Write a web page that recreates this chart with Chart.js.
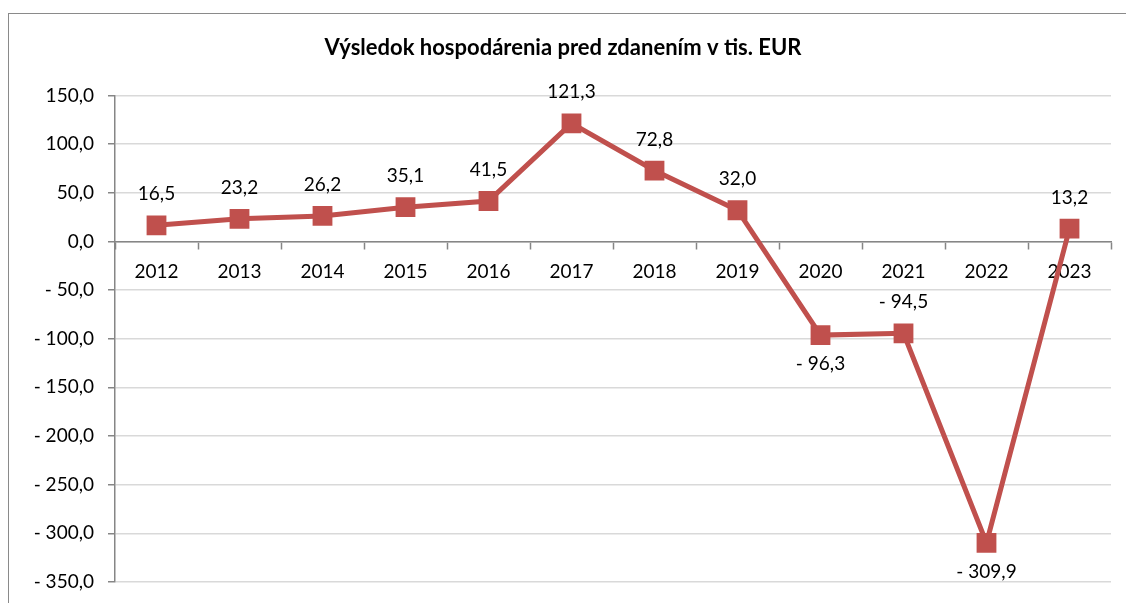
<!DOCTYPE html>
<html>
<head>
<meta charset="utf-8">
<script src="https://cdn.jsdelivr.net/npm/chart.js@4/dist/chart.umd.min.js"></script>
<style>
  html, body { margin: 0; padding: 0; background: #fff; }
  #wrap { position: relative; width: 1126px; height: 603px; overflow: hidden; }
  #frame { position: absolute; left: 8px; top: 13px; width: 1200px; height: 700px;
           border-left: 1.5px solid #8a8a8a; border-top: 1.5px solid #8a8a8a; }
  canvas { position: absolute; left: 0; top: 0; }
</style>
</head>
<body>
<div id="wrap">
  <div id="frame"></div>
  <canvas id="chart" width="1126" height="603"></canvas>
</div>
<script>
const years = ["2012", "2013", "2014", "2015", "2016", "2017", "2018", "2019", "2020", "2021", "2022", "2023"];
const result = [16.5, 23.2, 26.2, 35.1, 41.5, 121.3, 72.8, 32.0, -96.3, -94.5, -309.9, 13.2];
// where each value label sits relative to its point
const labelSide = ["up", "up", "up", "up", "up", "up", "up", "up", "down", "up", "down", "up"];

const FONT = "Lato, 'Open Sans', sans-serif";
const RED = "#C0504D";

function fmt(v) {
  const s = Math.abs(v).toFixed(1).replace(".", ",");
  return v < 0 ? "- " + s : s;
}

const valueLabels = {
  id: "valueLabels",
  afterDatasetsDraw(chart) {
    const ctx = chart.ctx;
    const meta = chart.getDatasetMeta(0);
    ctx.save();
    ctx.font = "19px " + FONT;
    ctx.fillStyle = "#000";
    ctx.textAlign = "center";
    ctx.textBaseline = "middle";
    meta.data.forEach((pt, i) => {
      const dy = labelSide[i] === "down" ? 29 : -31;
      ctx.fillText(fmt(result[i]), pt.x, pt.y + dy);
    });
    ctx.restore();
  }
};

new Chart(document.getElementById("chart"), {
  type: "line",
  data: {
    labels: years,
    datasets: [{
      data: result,
      borderColor: RED,
      backgroundColor: RED,
      borderWidth: 5,
      pointStyle: "rect",
      pointRadius: 14,
      pointHoverRadius: 14,
      pointBorderWidth: 0,
      tension: 0
    }]
  },
  options: {
    responsive: false,
    animation: false,
    layout: { padding: { left: 15, right: 15, top: 0, bottom: 21 } },
    plugins: {
      legend: { display: false },
      tooltip: { enabled: false },
      title: {
        display: true,
        text: "Výsledok hospodárenia pred zdanením v tis. EUR",
        color: "#000",
        font: { family: FONT, size: 22, weight: "bold", lineHeight: 1.2 },
        padding: { top: 35, bottom: 34 }
      }
    },
    scales: {
      x: {
        position: { y: 0 },
        offset: true,
        grid: {
          offset: true,
          drawOnChartArea: false,
          drawTicks: true,
          tickLength: 7,
          tickColor: "#868686",
          tickWidth: 1.5
        },
        border: { color: "#868686", width: 1.5 },
        ticks: { color: "#000", font: { family: FONT, size: 19 }, padding: 12, maxRotation: 0 }
      },
      y: {
        min: -350,
        max: 150,
        afterFit(scale) {
          scale.width = 100;
          scale.paddingBottom = 0;
        },
        grid: {
          color: "#d9d9d9",
          lineWidth: 1.5,
          tickLength: 7,
          tickColor: "#868686",
          tickWidth: 1.5
        },
        border: { color: "#868686", width: 1.5 },
        ticks: {
          stepSize: 50,
          color: "#000",
          font: { family: FONT, size: 19 },
          padding: 14,
          callback: v => fmt(v)
        }
      }
    }
  },
  plugins: [valueLabels]
});
</script>
</body>
</html>
